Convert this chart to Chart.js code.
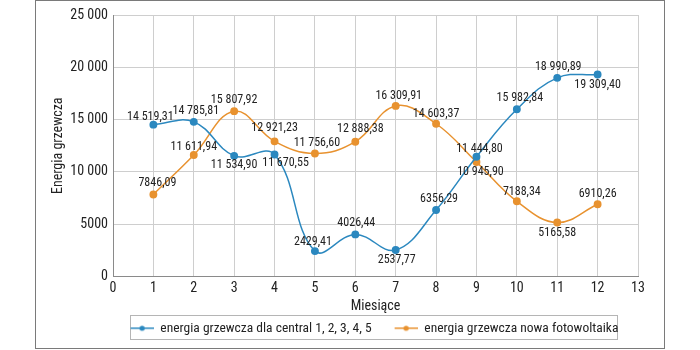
<!DOCTYPE html>
<html lang="pl">
<head>
  <meta charset="UTF-8">
  <title>Energia grzewcza</title>
  <style>
    body { margin: 0; background: #ffffff; }
    #wrap { position: relative; width: 700px; height: 350px; }
  </style>
</head>
<body>
  <div id="wrap"><canvas id="chartEnergia" width="700" height="350"></canvas></div>

  <script src="https://cdn.jsdelivr.net/npm/chart.js"></script>
  <script>
    const months = [1, 2, 3, 4, 5, 6, 7, 8, 9, 10, 11, 12];
    const centrale = [14519.31, 14785.81, 11534.90, 11670.55, 2429.41, 4026.44, 2537.77, 6356.29, 11444.80, 15982.84, 18990.89, 19309.40];
    const fotowoltaika = [7846.09, 11611.94, 15807.92, 12921.23, 11756.60, 12888.38, 16309.91, 14603.37, 10945.90, 7188.34, 5165.58, 6910.26];
    const seriesNames = ['energia grzewcza dla central 1, 2, 3, 4, 5', 'energia grzewcza nowa fotowoltaika'];

    // label offsets (px) from each point
    const centraleDx = [-3, 2, 0, 11, -2, 1, 1, 3, 3, 3, 1, 0];
    const centraleDy = [-8, -11, 9, 9, -9, -11, 10, -11, -8, -11, -11, 10];
    const fotoDx = [4, 0, 0, 0, 2, 5, 3, 0, 4, 5, 0, 0];
    const fotoDy = [-11, -8, -11, -13, -11, -13, -10, -10, 10, -9, 11, -10];

    const BLUE = '#2b88bf';
    const ORANGE = '#e8922f';
    const FONT = "'Roboto Condensed', 'Liberation Sans', sans-serif";

    function fmt(v) {
      let parts = v.toFixed(2).split('.');
      let int = parts[0];
      if (int.length > 4) int = int.replace(/\B(?=(\d{3})+(?!\d))/g, ' ');
      return int + ',' + parts[1];
    }

    // legend marker: short line with a dot, blank gap on the left
    function markerIcon(color) {
      const c = document.createElement('canvas');
      c.width = 36; c.height = 8;
      const ctx = c.getContext('2d');
      ctx.strokeStyle = color;
      ctx.lineWidth = 1.5;
      ctx.beginPath(); ctx.moveTo(13, 4); ctx.lineTo(36, 4); ctx.stroke();
      ctx.fillStyle = color;
      ctx.beginPath(); ctx.arc(24.5, 4, 2.6, 0, Math.PI * 2); ctx.fill();
      return c;
    }

    const frame = {
      id: 'frame',
      afterLayout(chart) {
        chart.legend.left += 24;
        chart.legend.right += 24;
      },
      beforeDraw(chart) {
        const ctx = chart.ctx;
        ctx.save();
        ctx.strokeStyle = '#7a7a7a';
        ctx.lineWidth = 1;
        ctx.strokeRect(35.5, 0.5, 629, 348);
        ctx.strokeStyle = '#b5b5b5';
        ctx.strokeRect(130.5, 315.5, 487, 24);
        ctx.restore();
      }
    };

    const valueLabels = {
      id: 'valueLabels',
      afterDatasetsDraw(chart) {
        const ctx = chart.ctx;
        const values = [centrale, fotowoltaika];
        const dxs = [centraleDx, fotoDx];
        const dys = [centraleDy, fotoDy];
        ctx.save();
        ctx.font = '12px ' + FONT;
        ctx.fillStyle = '#222';
        ctx.textAlign = 'center';
        ctx.textBaseline = 'middle';
        values.forEach((vals, i) => {
          chart.getDatasetMeta(i).data.forEach((pt, j) => {
            ctx.fillText(fmt(vals[j]), pt.x + dxs[i][j], pt.y + dys[i][j]);
          });
        });
        ctx.restore();
      }
    };

    function toPoints(arr) {
      return arr.map((v, i) => ({ x: months[i], y: v }));
    }

    new Chart(document.getElementById('chartEnergia'), {
      type: 'line',
      data: {
        datasets: [
          {
            label: seriesNames[0],
            data: toPoints(centrale),
            borderColor: BLUE,
            backgroundColor: BLUE,
            borderWidth: 1.5,
            pointRadius: 3.2,
            tension: 0.4
          },
          {
            label: seriesNames[1],
            data: toPoints(fotowoltaika),
            borderColor: ORANGE,
            backgroundColor: ORANGE,
            borderWidth: 1.5,
            pointRadius: 3.2,
            tension: 0.4
          }
        ]
      },
      options: {
        responsive: false,
        animation: false,
        layout: { padding: { left: 50, right: 62, top: 15, bottom: 5 } },
        plugins: {
          tooltip: { enabled: false },
          legend: {
            position: 'bottom',
            labels: {
              color: '#222',
              font: { family: FONT, size: 13.5 },
              usePointStyle: true,
              pointStyleWidth: 36,
              padding: 10,
              generateLabels(chart) {
                return chart.data.datasets.map((ds, i) => ({
                  text: ds.label,
                  pointStyle: markerIcon(ds.borderColor),
                  fillStyle: ds.borderColor,
                  strokeStyle: ds.borderColor,
                  lineWidth: 0,
                  fontColor: '#222',
                  datasetIndex: i
                }));
              }
            }
          }
        },
        scales: {
          x: {
            type: 'linear',
            min: 0,
            max: 13,
            ticks: { stepSize: 1, color: '#222', font: { family: FONT, size: 14 }, padding: 4 },
            grid: { color: '#cecece', tickLength: 0 },
            border: { color: '#8a8a8a' },
            title: { display: true, text: 'Miesiące', color: '#222', font: { family: FONT, size: 14 }, padding: { top: 0, bottom: -3 } },
            afterFit(scale) { scale.height = 35; }
          },
          y: {
            min: 0,
            max: 25000,
            ticks: {
              stepSize: 5000,
              color: '#222',
              font: { family: FONT, size: 14 },
              padding: 5,
              callback: v => v >= 10000 ? String(v).replace(/\B(?=(\d{3})+(?!\d))/g, ' ') : String(v)
            },
            grid: { color: '#cecece', tickLength: 0 },
            border: { color: '#8a8a8a' },
            title: { display: true, text: 'Energia grzewcza', color: '#222', font: { family: FONT, size: 14 }, padding: 0 },
            afterFit(scale) { scale.width = 63; }
          }
        }
      },
      plugins: [frame, valueLabels]
    });
  </script>
</body>
</html>
